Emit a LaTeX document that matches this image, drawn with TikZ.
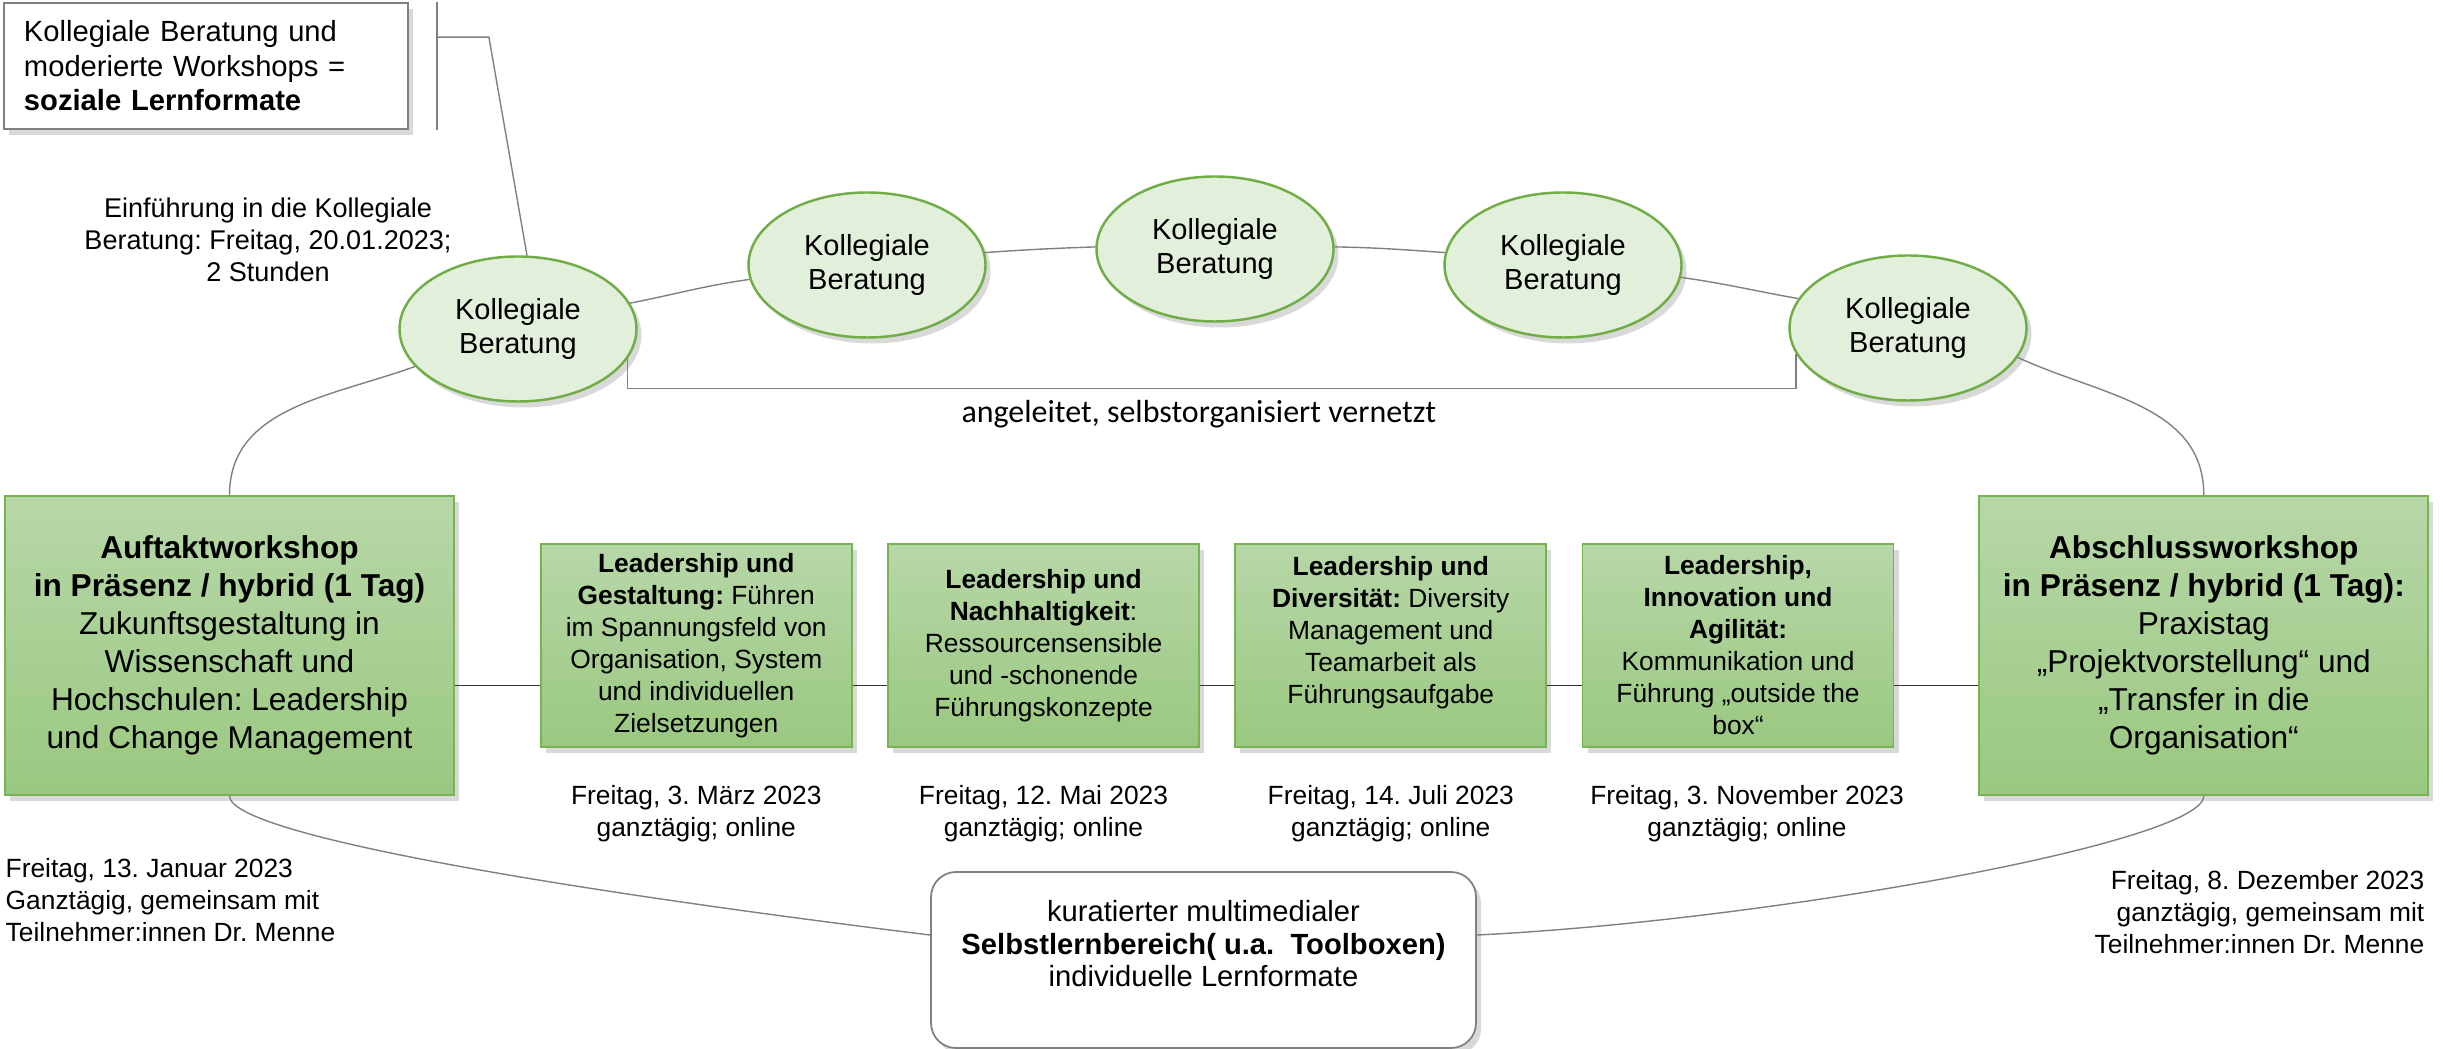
\documentclass[tikz,border=0pt]{standalone}
\usepackage{fontspec}
\setmainfont{Liberation Sans}
\newfontfamily\calibri{Carlito}
\usepackage{tikz}
\usetikzlibrary{positioning, shapes.geometric, shadows}
\frenchspacing
\definecolor{boxtop}{RGB}{183,215,168}
\definecolor{boxbottom}{RGB}{154,200,128}
\definecolor{boxline}{RGB}{118,180,82}
\definecolor{ellfill}{RGB}{226,239,218}
\definecolor{ellline}{RGB}{112,173,71}
\definecolor{linegray}{RGB}{128,128,128}
\tikzstyle{shadowed} = [drop shadow={shadow xshift=0.5mm, shadow yshift=-0.6mm, opacity=0.3}]
\tikzstyle{link} = [draw=linegray, line width=0.4pt]
\tikzstyle{timeline} = [draw=black!80, line width=0.5pt]
\tikzstyle{workshop} = [rectangle, draw=boxline, line width=0.5pt, top color=boxtop, bottom color=boxbottom, minimum width=4.49cm, minimum height=2.99cm, align=center, inner sep=1mm, font=\fontsize{9}{10.8}\selectfont, shadowed]
\tikzstyle{module} = [rectangle, draw=boxline, line width=0.5pt, top color=boxtop, bottom color=boxbottom, minimum width=3.11cm, minimum height=2.03cm, align=center, inner sep=0.5mm, font=\fontsize{7.5}{9.1}\selectfont, shadowed]
\tikzstyle{beratung} = [ellipse, draw=ellline, line width=0.7pt, fill=ellfill, minimum width=2.37cm, minimum height=1.45cm, inner sep=0pt, align=center, font=\fontsize{8.25}{9.9}\selectfont, shadowed]
\tikzstyle{callout} = [rectangle, draw=linegray, line width=0.5pt, fill=white, minimum width=4.04cm, minimum height=1.26cm, text width=3.64cm, inner xsep=2mm, align=left, font=\fontsize{8.3}{9.8}\selectfont, shadowed]
\tikzstyle{lernbox} = [rectangle, rounded corners=2.5mm, draw=linegray, line width=0.5pt, fill=white, minimum width=5.45cm, minimum height=1.76cm, align=center, font=\fontsize{8.3}{9.3}\selectfont, shadowed]
\tikzstyle{date} = [align=center, inner sep=0pt, font=\fontsize{7.5}{9.1}\selectfont]
\tikzstyle{vermerk} = [inner sep=0pt, font=\calibri\fontsize{9.1}{11}\selectfont]

\begin{document}
\begin{tikzpicture}[node distance=0.345cm]
\useasboundingbox (0,0) rectangle (24.43,-10.49);

\node (hinweis) [callout] at (2.06,-0.66) {Kollegiale Beratung und\\moderierte Workshops =\\\textbf{soziale Lernformate}};
\node (einf) [date, anchor=north, font=\fontsize{7.7}{9.2}\selectfont] at (2.68,-1.97) {Einführung in die Kollegiale\\Beratung: Freitag, 20.01.2023;\\2 Stunden};

\node (kb1) [beratung] at (5.18,-3.29) {Kollegiale\\Beratung};
\node (kb2) [beratung] at (8.67,-2.65) {Kollegiale\\Beratung};
\node (kb3) [beratung] at (12.15,-2.49) {Kollegiale\\Beratung};
\node (kb4) [beratung] at (15.63,-2.65) {Kollegiale\\Beratung};
\node (kb5) [beratung] at (19.08,-3.28) {Kollegiale\\Beratung};

\node (auftakt) [workshop] at (2.295,-6.455) {\textbf{Auftaktworkshop}\\\textbf{in Präsenz / hybrid (1 Tag)}\\Zukunftsgestaltung in\\Wissenschaft und\\Hochschulen: Leadership\\und Change Management};
\node (ws1) [module, right=0.85cm of auftakt] {\textbf{Leadership und}\\\textbf{Gestaltung:} Führen\\im Spannungsfeld von\\Organisation, System\\und individuellen\\Zielsetzungen};
\node (ws2) [module, right=of ws1] {\textbf{Leadership und}\\\textbf{Nachhaltigkeit}:\\Ressourcensensible\\und -schonende\\Führungskonzepte};
\node (ws3) [module, right=of ws2] {\textbf{Leadership und}\\\textbf{Diversität:} Diversity\\Management und\\Teamarbeit als\\Führungsaufgabe\\~};
\node (ws4) [module, right=of ws3] {\textbf{Leadership,}\\\textbf{Innovation und}\\\textbf{Agilität:}\\Kommunikation und\\Führung „outside the\\box“};
\node (abschluss) [workshop, right=0.84cm of ws4] {\textbf{Abschlussworkshop}\\\textbf{in Präsenz / hybrid (1 Tag):}\\Praxistag\\„Projektvorstellung“ und\\„Transfer in die\\Organisation“};

\node (d1) [date, below=0.37cm of ws1] {Freitag, 3. März 2023\\ganztägig; online};
\node (d2) [date, below=0.37cm of ws2] {Freitag, 12. Mai 2023\\ganztägig; online};
\node (d3) [date, below=0.37cm of ws3] {Freitag, 14. Juli 2023\\ganztägig; online};
\node (d4) [date, below=0.37cm of ws4, xshift=0.9mm] {Freitag, 3. November 2023\\ganztägig; online};
\node (dstart) [date, anchor=north west, align=left] at (0.05,-8.58) {Freitag, 13. Januar 2023\\Ganztägig, gemeinsam mit\\Teilnehmer:innen Dr. Menne};
\node (dend) [date, anchor=north east, align=right] at (24.25,-8.70) {Freitag, 8. Dezember 2023\\ganztägig, gemeinsam mit\\Teilnehmer:innen Dr. Menne};

\node (self) [lernbox] at (12.035,-9.60) {kuratierter multimedialer\\\textbf{Selbstlernbereich( u.a.\ \ Toolboxen)}\\individuelle Lernformate\\~};

\draw [link] ([xshift=2.8mm]hinweis.north east) -- ([xshift=2.8mm]hinweis.south east);
\draw [link] ([xshift=2.8mm,yshift=-3.5mm]hinweis.north east) -- ++(0.52,0) -- (kb1.83);

\draw [link] (auftakt.north) to[out=90,in=200] (kb1.200);
\draw [link] (kb1.13) to[out=11,in=188] (kb2.187);
\draw [link] (kb2.6) to[out=4,in=182] (kb3.179);
\draw [link] (kb3.1) to[out=-1,in=176] (kb4.174);
\draw [link] (kb4.-6) to[out=-8,in=170] (kb5.165);
\draw [link] (kb5.-15) to[out=-25,in=90] (abschluss.north);
\draw [link] (kb1.-15) -- ++(0,-0.3) -| node[vermerk, below=1.1mm, pos=0.25, xshift=-1.3mm]{angeleitet, selbstorganisiert vernetzt} (kb5.193);

\draw [timeline] ([yshift=-4mm]auftakt.east) -- ([yshift=-4mm]ws1.west);
\draw [timeline] ([yshift=-4mm]ws1.east) -- ([yshift=-4mm]ws2.west);
\draw [timeline] ([yshift=-4mm]ws2.east) -- ([yshift=-4mm]ws3.west);
\draw [timeline] ([yshift=-4mm]ws3.east) -- ([yshift=-4mm]ws4.west);
\draw [timeline] ([yshift=-4mm]ws4.east) -- ([yshift=-4mm]abschluss.west);

\draw [link] (auftakt.south) .. controls +(0,-0.40) and +(-3.50,0.43) .. ([yshift=2.5mm]self.west);
\draw [link] ([yshift=2.5mm]self.east) .. controls +(2.87,0.14) and +(0,-0.47) .. (abschluss.south);
\end{tikzpicture}
\end{document}
